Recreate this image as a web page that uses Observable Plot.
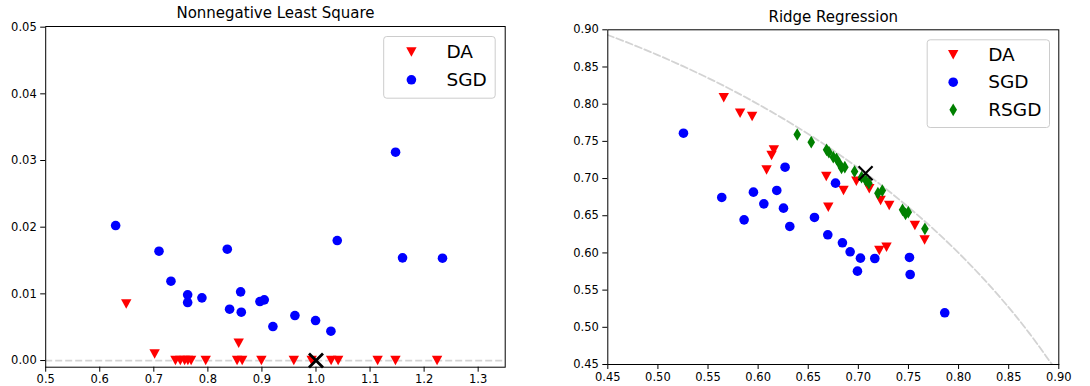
<!DOCTYPE html>
<html><head><meta charset="utf-8">
<script src="https://cdn.jsdelivr.net/npm/d3@7"></script>
<script src="https://cdn.jsdelivr.net/npm/@observablehq/plot@0.6"></script>
<style>
body{margin:0;background:#fff}
#wrap{position:relative;width:1090px;height:386px;overflow:hidden;background:#fff}
#wrap svg{position:absolute;top:0}
</style>
</head><body><div id="wrap"></div>
<script>
// ---------- Data: Nonnegative Least Square ----------
const nnlsTitle = "Nonnegative Least Square";
const nnlsDAx = [0.649, 0.7015, 0.740, 0.749, 0.757, 0.763, 0.769, 0.796, 0.857, 0.854, 0.8635, 0.899, 0.959, 0.992, 1.028, 1.041, 1.114, 1.147, 1.224];
const nnlsDAy = [0.0085, 0.001, 0, 0, 0, 0, 0, 0, 0.0026, 0, 0, 0, 0, 0, 0, 0, 0, 0, 0];
const nnlsSGDx = [0.6294, 0.7096, 0.7317, 0.7626, 0.7626, 0.789, 0.8359, 0.8402, 0.8606, 0.8618, 0.8963, 0.9043, 0.9203, 0.961, 0.9992, 1.0276, 1.0393, 1.1472, 1.1601, 1.234];
const nnlsSGDy = [0.02025, 0.0164, 0.0119, 0.00985, 0.0087, 0.0094, 0.0167, 0.0077, 0.0103, 0.00725, 0.00885, 0.0091, 0.0051, 0.00675, 0.006, 0.0044, 0.018, 0.03125, 0.0154, 0.01535];
const nnlsOptX = [1.0];
const nnlsOptY = [0.0];
const nnlsGuideY = [0];
const nnlsXTicks = [0.5, 0.6, 0.7, 0.8, 0.9, 1.0, 1.1, 1.2, 1.3];
const nnlsYTicks = [0, 0.01, 0.02, 0.03, 0.04, 0.05];
const nnlsLegend = ["DA", "SGD"];

// ---------- Data: Ridge Regression ----------
const ridgeTitle = "Ridge Regression";
const ridgeDAx = [0.5657, 0.582, 0.594, 0.6157, 0.6134, 0.6084, 0.668, 0.670, 0.6852, 0.698, 0.7109, 0.7222, 0.7308, 0.7564, 0.7661, 0.7209, 0.7281];
const ridgeDAy = [0.8086, 0.788, 0.7835, 0.7386, 0.731, 0.7117, 0.7027, 0.6615, 0.684, 0.6964, 0.6862, 0.6705, 0.6638, 0.6369, 0.6176, 0.6033, 0.6077];
const ridgeSGDx = [0.5255, 0.5637, 0.586, 0.5953, 0.6057, 0.6186, 0.6269, 0.6253, 0.6316, 0.6562, 0.6695, 0.6772, 0.6841, 0.6918, 0.7021, 0.6991, 0.7164, 0.751, 0.7517, 0.7862];
const ridgeSGDy = [0.761, 0.6746, 0.6445, 0.6817, 0.666, 0.684, 0.7153, 0.6602, 0.6356, 0.6477, 0.6244, 0.6938, 0.6136, 0.6015, 0.593, 0.5755, 0.5925, 0.5939, 0.571, 0.5195];
const ridgeRSGDx = [0.639, 0.653, 0.6683, 0.6706, 0.675, 0.6782, 0.6812, 0.6832, 0.6865, 0.6962, 0.7032, 0.7075, 0.7105, 0.7195, 0.7239, 0.7441, 0.7471, 0.7498, 0.7664];
const ridgeRSGDy = [0.7592, 0.7489, 0.7386, 0.7355, 0.7287, 0.7265, 0.7198, 0.7144, 0.7153, 0.7095, 0.7018, 0.6974, 0.6937, 0.6803, 0.6839, 0.658, 0.6526, 0.6548, 0.6324];
const ridgeOptX = [0.7072];
const ridgeOptY = [0.7072];
// dashed reference arc (unit circle)
const arcX = [0.44, 0.45, 0.475, 0.50, 0.525, 0.55, 0.575, 0.60, 0.625, 0.65, 0.675, 0.70, 0.725, 0.75, 0.775, 0.80, 0.825, 0.85, 0.865, 0.88, 0.89, 0.895];
const arcY = [0.8980, 0.8930, 0.8800, 0.8660, 0.8511, 0.8352, 0.8182, 0.8000, 0.7806, 0.7599, 0.7378, 0.7141, 0.6888, 0.6614, 0.6320, 0.6000, 0.5651, 0.5268, 0.5018, 0.4750, 0.4560, 0.4472];
const ridgeTicks = [0.45, 0.50, 0.55, 0.60, 0.65, 0.70, 0.75, 0.80, 0.85, 0.90];
const ridgeLegend = ["DA", "SGD", "RSGD"];

// ---------- helpers ----------
const zip = (xs, ys) => xs.map((x, i) => ({x, y: ys[i]}));
const triDown = {draw(c, size) { const r = Math.sqrt(size / Math.PI);
  c.moveTo(-1.04 * r, -0.94 * r); c.lineTo(1.04 * r, -0.94 * r); c.lineTo(0, 0.96 * r); c.closePath(); }};
const thinDiamond = {draw(c, size) { const r = Math.sqrt(size / Math.PI);
  c.moveTo(0, -1.27 * r); c.lineTo(0.76 * r, 0); c.lineTo(0, 1.27 * r); c.lineTo(-0.76 * r, 0); c.closePath(); }};
const cross = {draw(c, size) { const r = Math.sqrt(size / Math.PI);
  c.moveTo(-r, -r); c.lineTo(r, r); c.moveTo(-r, r); c.lineTo(r, -r); }};
const FONT = "DejaVu Sans, sans-serif";
const markerStyle = {
  DA: {symbol: triDown, fill: "#ff0000", r: 5},
  SGD: {symbol: "circle", fill: "#0000ff", r: 4.8},
  RSGD: {symbol: thinDiamond, fill: "#008000", r: 5}
};

function legendMarks(names, boxInsets, mx, tx, rowsY) {
  const marks = [Plot.frame({...boxInsets, fill: "white", fillOpacity: 0.85, stroke: "#cccccc", strokeWidth: 1, rx: 3})];
  names.forEach((n, i) => {
    const s = markerStyle[n];
    marks.push(Plot.dot([n], {frameAnchor: "top-left", dx: mx, dy: rowsY[i], symbol: s.symbol, fill: s.fill, stroke: "none", r: s.r}));
    marks.push(Plot.text([n], {frameAnchor: "top-left", dx: tx, dy: rowsY[i], text: d => d, textAnchor: "start", lineAnchor: "middle", fontSize: 18.5, fill: "black"}));
  });
  return marks;
}

const wrap = document.getElementById("wrap");

// ---------- Left: Nonnegative Least Square ----------
const left = Plot.plot({
  width: 545, height: 386,
  marginLeft: 45.2, marginRight: 40.3, marginTop: 26, marginBottom: 19.3,
  style: {fontFamily: FONT, fontSize: "11.5px", color: "black", background: "white", overflow: "visible"},
  x: {domain: [0.5, 1.35], ticks: nnlsXTicks, tickFormat: d3.format(".1f"), tickSize: 5, tickPadding: 3, label: null},
  y: {domain: [-0.001, 0.0501], ticks: nnlsYTicks, tickFormat: d3.format(".2f"), tickSize: 5, tickPadding: 4, label: null},
  marks: [
    Plot.ruleY(nnlsGuideY, {stroke: "#d3d3d3", strokeWidth: 1.8, strokeDasharray: "7,3"}),
    Plot.dot(zip(nnlsDAx, nnlsDAy), {x: "x", y: "y", symbol: triDown, fill: "#ff0000", stroke: "none", r: 5}),
    Plot.dot(zip(nnlsSGDx, nnlsSGDy), {x: "x", y: "y", symbol: "circle", fill: "#0000ff", stroke: "none", r: 4.8}),
    Plot.dot(zip(nnlsOptX, nnlsOptY), {x: "x", y: "y", symbol: cross, fill: "none", stroke: "black", strokeWidth: 2.8, r: 7}),
    Plot.frame({stroke: "black", strokeWidth: 1}),
    Plot.text([nnlsTitle], {frameAnchor: "top", dy: -13, text: d => d, lineAnchor: "middle", fontSize: 15, fill: "black"}),
    ...legendMarks(nnlsLegend, {insetLeft: 338, insetRight: 10, insetTop: 10, insetBottom: 269}, 365.7, 400.7, [25.5, 53.3])
  ]
});
left.style.left = "0px";
wrap.appendChild(left);

// ---------- Right: Ridge Regression ----------
const right = Plot.plot({
  width: 545, height: 386,
  marginLeft: 62.3, marginRight: 31.7, marginTop: 29.3, marginBottom: 22,
  style: {fontFamily: FONT, fontSize: "11.5px", color: "black", background: "white", overflow: "visible"},
  x: {domain: [0.45, 0.90], ticks: ridgeTicks, tickFormat: d3.format(".2f"), tickSize: 5, tickPadding: 3, label: null},
  y: {domain: [0.45, 0.90], ticks: ridgeTicks, tickFormat: d3.format(".2f"), tickSize: 5, tickPadding: 4, label: null},
  marks: [
    Plot.line(zip(arcX, arcY), {x: "x", y: "y", curve: "catmull-rom", clip: true, stroke: "#d3d3d3", strokeWidth: 1.8, strokeDasharray: "7,3"}),
    Plot.dot(zip(ridgeDAx, ridgeDAy), {x: "x", y: "y", symbol: triDown, fill: "#ff0000", stroke: "none", r: 5}),
    Plot.dot(zip(ridgeSGDx, ridgeSGDy), {x: "x", y: "y", symbol: "circle", fill: "#0000ff", stroke: "none", r: 4.8}),
    Plot.dot(zip(ridgeRSGDx, ridgeRSGDy), {x: "x", y: "y", symbol: thinDiamond, fill: "#008000", stroke: "none", r: 5}),
    Plot.dot(zip(ridgeOptX, ridgeOptY), {x: "x", y: "y", symbol: cross, fill: "none", stroke: "black", strokeWidth: 2.2, r: 7}),
    Plot.frame({stroke: "black", strokeWidth: 1}),
    Plot.text([ridgeTitle], {frameAnchor: "top", dy: -13, text: d => d, lineAnchor: "middle", fontSize: 15, fill: "black"}),
    ...legendMarks(ridgeLegend, {insetLeft: 319.4, insetRight: 9.3, insetTop: 10, insetBottom: 237}, 345.4, 380.4, [25, 52.4, 80])
  ]
});
right.style.left = "545px";
wrap.appendChild(right);
</script>
</body></html>
